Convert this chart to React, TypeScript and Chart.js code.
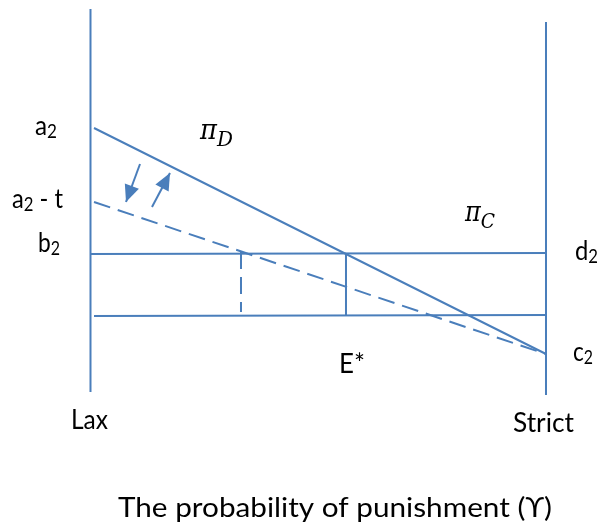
import React, { useEffect, useRef } from "react";
import { Chart, registerables } from "chart.js";

Chart.register(...registerables);

// ---- Data (x: probability of punishment, 0 = Lax, 1 = Strict; y: payoff) ----
const leftAxis = [{ x: 0, y: 7.82 }, { x: 0, y: 0.16 }];
const rightAxis = [{ x: 1, y: 7.56 }, { x: 1, y: 0.1 }];
const piD = [{ x: 0.0077, y: 5.44 }, { x: 1, y: 0.92 }]; // a2 -> c2
const piDTaxed = [{ x: 0.0077, y: 3.96 }, { x: 1, y: 0.92 }]; // a2 - t -> c2
const piC = [{ x: 0, y: 2.92 }, { x: 1, y: 2.94 }]; // b2 -> d2
const lowerLine = [{ x: 0.0077, y: 1.68 }, { x: 1, y: 1.7 }];
const eStarDrop = [{ x: 0.5609, y: 2.93 }, { x: 0.5609, y: 1.69 }];
const taxedDrop = [{ x: 0.3304, y: 2.96 }, { x: 0.3304, y: 1.76 }];
const arrowDown = [{ x: 0.1087, y: 4.72 }, { x: 0.0779, y: 3.96 }];
const arrowUp = [{ x: 0.135, y: 3.86 }, { x: 0.1745, y: 4.54 }];

const xRange = [-0.19868, 1.11636];
const yRange = [-2.5, 8];

const BLUE = "#4a7ebb";
const SANS = "Lato, 'Open Sans', sans-serif";
const SERIF = "'DejaVu Serif', 'Liberation Serif', serif";

type Part = { t: string; sub?: boolean };
type Label = { parts: Part[]; x: number; y: number; w?: number; size: number; italicSerif?: boolean };

const labels: Label[] = [
  { parts: [{ t: "a" }, { t: "2", sub: true }], x: 35, y: 135, w: 22, size: 27 },
  { parts: [{ t: "a" }, { t: "2", sub: true }, { t: " - t" }], x: 12, y: 208, w: 51, size: 27 },
  { parts: [{ t: "b" }, { t: "2", sub: true }], x: 38, y: 252, w: 22, size: 27 },
  { parts: [{ t: "d" }, { t: "2", sub: true }], x: 575, y: 260, w: 23, size: 27 },
  { parts: [{ t: "c" }, { t: "2", sub: true }], x: 573, y: 361, w: 20, size: 27 },
  { parts: [{ t: "E*" }], x: 339, y: 373, w: 26, size: 26 },
  { parts: [{ t: "Lax" }], x: 71, y: 429, w: 37, size: 27 },
  { parts: [{ t: "Strict" }], x: 513, y: 432, w: 61, size: 27 },
  { parts: [{ t: "The probability of punishment (ϒ)" }], x: 118, y: 517, w: 434, size: 26 },
  { parts: [{ t: "π" }, { t: "D", sub: true }], x: 200, y: 139, w: 33, size: 27, italicSerif: true },
  { parts: [{ t: "π" }, { t: "C", sub: true }], x: 465, y: 221, w: 30, size: 27, italicSerif: true },
];

const arrowHeadPlugin = {
  id: "arrowHeads",
  afterDatasetsDraw(chart: any) {
    const ctx = chart.ctx;
    chart.data.datasets.forEach((ds: any, i: number) => {
      if (!ds.arrow) return;
      const pts = chart.getDatasetMeta(i).data;
      const a = pts[0], b = pts[pts.length - 1];
      const ang = Math.atan2(b.y - a.y, b.x - a.x);
      const len = 17, half = 7.5;
      ctx.save();
      ctx.fillStyle = BLUE;
      ctx.translate(b.x, b.y);
      ctx.rotate(ang);
      ctx.beginPath();
      ctx.moveTo(0, 0);
      ctx.lineTo(-len, -half);
      ctx.lineTo(-len, half);
      ctx.closePath();
      ctx.fill();
      ctx.restore();
    });
  },
};

const labelPlugin = {
  id: "labels",
  afterDraw(chart: any) {
    const ctx = chart.ctx;
    ctx.save();
    ctx.fillStyle = "#000";
    ctx.textBaseline = "alphabetic";
    ctx.textAlign = "left";
    labels.forEach((lb) => {
      const fam = lb.italicSerif ? SERIF : SANS;
      const style = lb.italicSerif ? "italic " : "";
      const subSize = lb.italicSerif ? 21 : 19;
      const fontFor = (p: Part) => `${style}${p.sub ? subSize : lb.size}px ${fam}`;
      let total = 0;
      lb.parts.forEach((p) => {
        ctx.font = fontFor(p);
        total += ctx.measureText(p.t).width;
      });
      const sx = lb.w ? lb.w / total : 1;
      ctx.save();
      ctx.translate(lb.x, lb.y);
      ctx.scale(sx, 1);
      let cx = 0;
      lb.parts.forEach((p) => {
        ctx.font = fontFor(p);
        ctx.fillText(p.t, cx, p.sub ? (lb.italicSerif ? 7 : 3) : 0);
        cx += ctx.measureText(p.t).width;
      });
      ctx.restore();
    });
    ctx.restore();
  },
};

function line(data: any[], dashed = false, arrow = false) {
  return {
    data,
    borderColor: BLUE,
    backgroundColor: BLUE,
    borderWidth: 2,
    borderDash: dashed ? [17, 8] : [],
    pointRadius: 0,
    showLine: true,
    fill: false,
    tension: 0,
    arrow,
  } as any;
}

export default function App() {
  const ref = useRef<HTMLCanvasElement>(null);
  useEffect(() => {
    document.body.style.margin = "0";
    const chart = new Chart(ref.current!, {
      type: "scatter",
      data: {
        datasets: [
          line(leftAxis),
          line(rightAxis),
          line(piD),
          line(piDTaxed, true),
          line(piC),
          line(lowerLine),
          line(eStarDrop),
          line(taxedDrop, true),
          line(arrowDown, false, true),
          line(arrowUp, false, true),
        ],
      },
      options: {
        responsive: false,
        maintainAspectRatio: false,
        animation: false,
        layout: { padding: 0 },
        plugins: { legend: { display: false }, tooltip: { enabled: false }, title: { display: false } },
        scales: {
          x: { type: "linear", min: xRange[0], max: xRange[1], display: false },
          y: { type: "linear", min: yRange[0], max: yRange[1], display: false },
        },
      },
      plugins: [arrowHeadPlugin, labelPlugin],
    });
    return () => chart.destroy();
  }, []);
  return (
    <div style={{ width: 599, height: 525, background: "#fff" }}>
      <canvas ref={ref} width={599} height={525} />
    </div>
  );
}
